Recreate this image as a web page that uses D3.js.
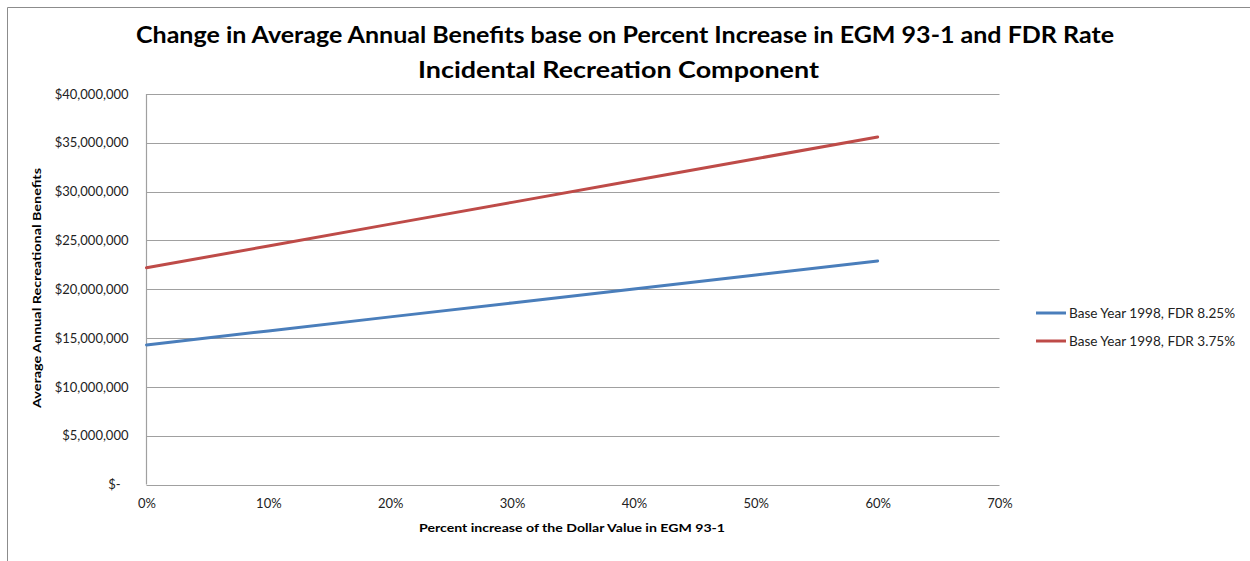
<!DOCTYPE html>
<html>
<head>
<meta charset="utf-8">
<script src="https://cdn.jsdelivr.net/npm/d3@7/dist/d3.min.js"></script>
<style>
  html, body { margin: 0; padding: 0; background: #fff; }
  svg { display: block; font-family: Lato, "Open Sans", sans-serif; }
</style>
</head>
<body>
<svg id="chart" width="1250" height="561"></svg>
<script>
// Percent increase in the dollar value (x) and average annual benefits (y)
const percentIncrease = [0, 0.1, 0.2, 0.3, 0.4, 0.5, 0.6];
const fdr825 = [14300000, 15730000, 17170000, 18600000, 20030000, 21470000, 22900000];
const fdr375 = [22200000, 24430000, 26670000, 28900000, 31130000, 33370000, 35600000];
const seriesNames = ["Base Year 1998, FDR 8.25%", "Base Year 1998, FDR 3.75%"];
const seriesColors = ["#4a7ebb", "#be4b48"];
const yTicks = [0, 5000000, 10000000, 15000000, 20000000, 25000000, 30000000, 35000000, 40000000];
const xTicks = [0, 0.1, 0.2, 0.3, 0.4, 0.5, 0.6, 0.7];
const titleLines = [
  "Change in Average Annual Benefits base on Percent Increase in EGM 93-1 and FDR Rate",
  "Incidental Recreation Component"
];

const svg = d3.select("#chart");
const plot = { left: 146.5, right: 999.5, top: 94, bottom: 484.5 };

// outer chart frame (top and left edges visible)
svg.append("path")
  .attr("d", "M7.5,561 V7.5 H1250")
  .attr("fill", "none").attr("stroke", "#8c8c8c").attr("stroke-width", 1);

const x = d3.scaleLinear().domain([0, 0.7]).range([plot.left, plot.right]);
const y = d3.scaleLinear().domain([0, 40000000]).range([plot.bottom, plot.top]);

// horizontal gridlines
svg.append("g")
  .selectAll("line").data(yTicks).join("line")
  .attr("x1", plot.left).attr("x2", plot.right)
  .attr("y1", d => Math.round(y(d)) + 0.5).attr("y2", d => Math.round(y(d)) + 0.5)
  .attr("stroke", "#a0a0a0").attr("stroke-width", 1.2);

// left axis line
svg.append("line")
  .attr("x1", plot.left).attr("x2", plot.left)
  .attr("y1", plot.top).attr("y2", plot.bottom)
  .attr("stroke", "#a0a0a0").attr("stroke-width", 1.2);

// y axis labels
const fmtMoney = d => d === 0 ? "$-" : "$" + d3.format(",")(d);
const yAxis = d3.axisLeft(y).tickValues(yTicks).tickFormat(fmtMoney).tickSize(0).tickPadding(18);
const gy = svg.append("g").attr("transform", `translate(${plot.left},0)`).call(yAxis);
gy.select(".domain").remove();
gy.selectAll("text").attr("font-size", 13).attr("fill", "#222").attr("font-family", "Lato, sans-serif");
gy.selectAll(".tick").filter(d => d === 0).select("text").attr("dx", -8);

// x axis labels
const xAxis = d3.axisBottom(x).tickValues(xTicks).tickFormat(d3.format(".0%")).tickSize(0).tickPadding(14);
const gx = svg.append("g").attr("transform", `translate(0,${plot.bottom})`).call(xAxis);
gx.select(".domain").remove();
gx.selectAll("text").attr("font-size", 13).attr("fill", "#222").attr("font-family", "Lato, sans-serif");

// series lines
const line = d3.line().x((d, i) => x(percentIncrease[i])).y(d => y(d));
[fdr825, fdr375].forEach((vals, k) => {
  svg.append("path")
    .datum(vals)
    .attr("d", line)
    .attr("fill", "none")
    .attr("stroke", seriesColors[k])
    .attr("stroke-width", 3)
    .attr("stroke-linecap", "round");
});

// title
svg.append("text")
  .attr("x", 625).attr("y", 43)
  .attr("text-anchor", "middle")
  .attr("font-size", 22).attr("font-weight", "bold").attr("fill", "#000")
  .attr("textLength", 978).attr("lengthAdjust", "spacingAndGlyphs")
  .text(titleLines[0]);
svg.append("text")
  .attr("x", 618.5).attr("y", 78)
  .attr("text-anchor", "middle")
  .attr("font-size", 22).attr("font-weight", "bold").attr("fill", "#000")
  .attr("textLength", 401).attr("lengthAdjust", "spacingAndGlyphs")
  .text(titleLines[1]);

// axis titles
svg.append("text")
  .attr("x", 572).attr("y", 532)
  .attr("text-anchor", "middle")
  .attr("font-size", 11.5).attr("font-weight", "bold").attr("fill", "#000")
  .attr("textLength", 306).attr("lengthAdjust", "spacingAndGlyphs")
  .text("Percent increase of the Dollar Value in EGM 93-1");
svg.append("text")
  .attr("transform", "translate(41,288) rotate(-90)")
  .attr("text-anchor", "middle")
  .attr("font-size", 11.5).attr("font-weight", "bold").attr("fill", "#000")
  .attr("textLength", 240).attr("lengthAdjust", "spacingAndGlyphs")
  .text("Average Annual Recreational Benefits");

// legend
const legend = svg.append("g");
seriesNames.forEach((name, k) => {
  const ly = 313 + k * 28;
  legend.append("line")
    .attr("x1", 1036).attr("x2", 1066).attr("y1", ly).attr("y2", ly)
    .attr("stroke", seriesColors[k]).attr("stroke-width", 3);
  legend.append("text")
    .attr("x", 1069).attr("y", ly + 4.5)
    .attr("font-size", 12.5).attr("fill", "#222")
    .attr("textLength", 166).attr("lengthAdjust", "spacingAndGlyphs")
    .text(name);
});
</script>
</body>
</html>
